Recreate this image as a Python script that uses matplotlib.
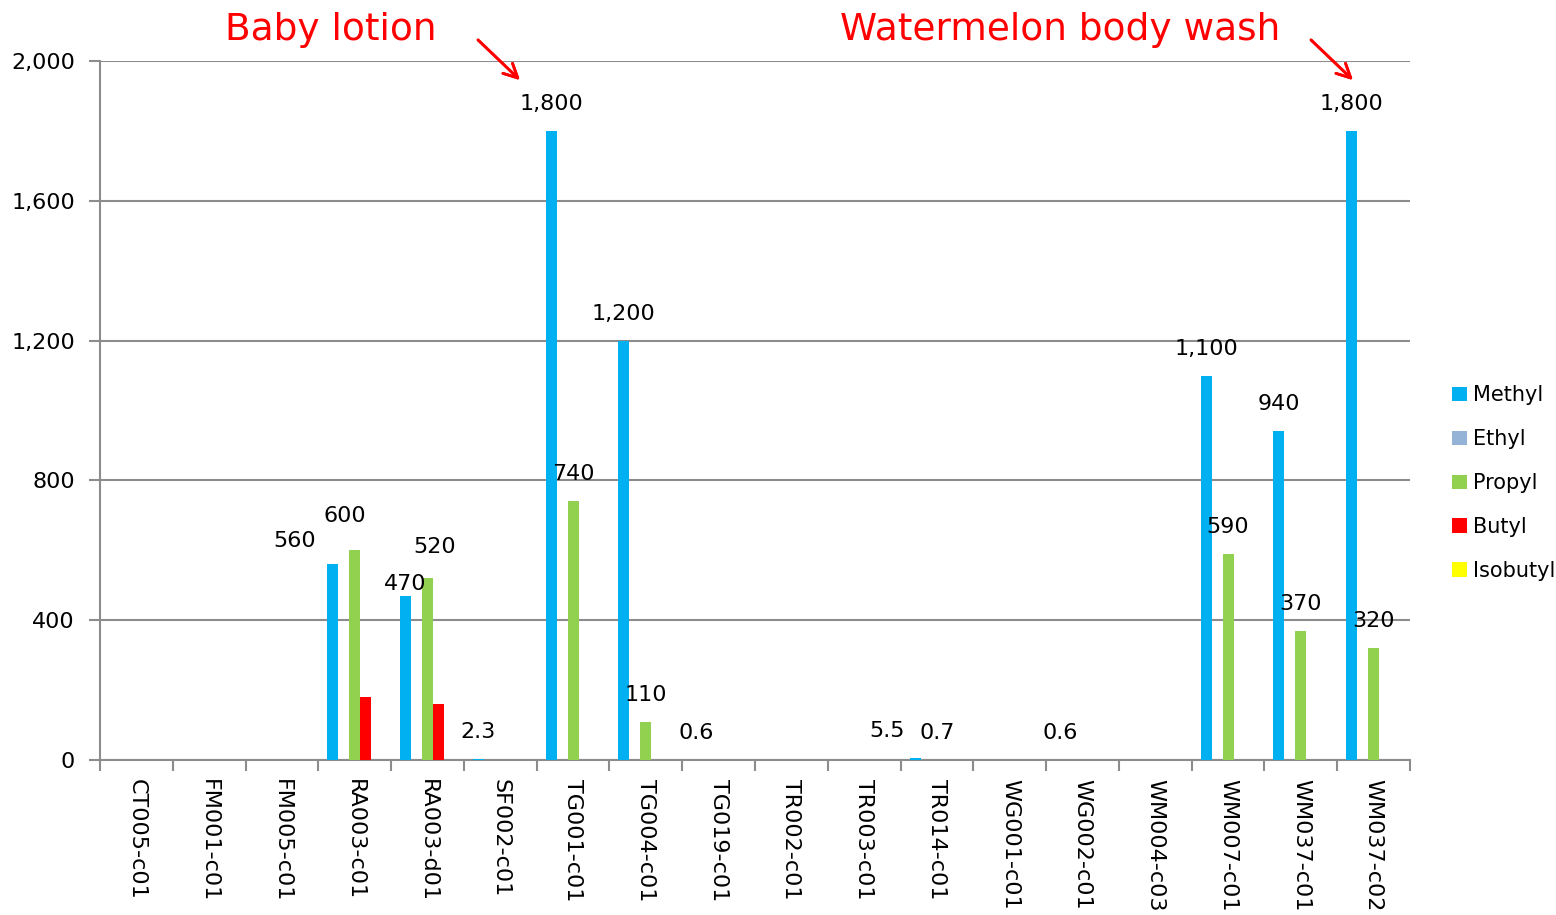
import numpy as np
import matplotlib
matplotlib.use("Agg")
import matplotlib.pyplot as plt
from matplotlib.patches import Patch

# ============================================================
# Datos
# ============================================================

muestras = ["CT005-c01", "FM001-c01", "FM005-c01", "RA003-c01", "RA003-d01",
            "SF002-c01", "TG001-c01", "TG004-c01", "TG019-c01", "TR002-c01",
            "TR003-c01", "TR014-c01", "WG001-c01", "WG002-c01", "WM004-c03",
            "WM007-c01", "WM037-c01", "WM037-c02"]

metil = [0, 0, 0, 560, 470, 2.3, 1800, 1200, 0.6, 0, 0, 5.5, 0, 0.6, 0, 1100, 940, 1800]
etil = [0] * 18
propil = [0, 0, 0, 600, 520, 0, 740, 110, 0, 0, 0, 0.7, 0, 0, 0, 590, 370, 320]
butil = [0, 0, 0, 180, 160, 0, 0, 0, 0, 0, 0, 0, 0, 0, 0, 0, 0, 0]
isobutil = [0] * 18

series = ["Methyl", "Ethyl", "Propyl", "Butyl", "Isobutyl"]
colores = ["#00B0F0", "#95B3D7", "#92D050", "#FF0000", "#FFFF00"]

# etiquetas: (serie, indice muestra, texto)
etiquetas = [
    (0, 3, "560"), (2, 3, "600"), (0, 4, "470"), (2, 4, "520"),
    (0, 5, "2.3"), (0, 6, "1,800"), (2, 6, "740"), (0, 7, "1,200"),
    (2, 7, "110"), (0, 8, "0.6"), (0, 11, "5.5"), (2, 11, "0.7"),
    (0, 13, "0.6"), (0, 15, "1,100"), (2, 15, "590"), (0, 16, "940"),
    (2, 16, "370"), (0, 17, "1,800"), (2, 17, "320"),
]
# desplazamientos manuales (px) de algunas etiquetas
ajustes = {(0, 3): (-38, -4), (2, 3): (-10, 7), (0, 4): (0, -15),
           (2, 4): (7, 4), (0, 11): (-28, 0)}

plt.rcParams["font.family"] = "DejaVu Sans"

fig = plt.figure(figsize=(15.56, 9.15), dpi=100)
ax = fig.add_axes([0.0643, 0.1694, 0.8419, 0.7639])

datos = [metil, etil, propil, butil, isobutil]
x = np.arange(len(muestras))
ancho = 0.151

for k, (vals, nombre, color) in enumerate(zip(datos, series, colores)):
    ax.bar(x + (k - 2) * ancho, vals, width=ancho, color=color, label=nombre, zorder=3)

px = 72 / 100  # pixeles -> puntos
for s, i, texto in etiquetas:
    dx, dy = ajustes.get((s, i), (0, 0))
    ax.annotate(texto, (x[i] + (s - 2) * ancho, datos[s][i]),
                xytext=(dx * px, (27 + dy) * px), textcoords="offset points",
                ha="center", va="center", fontsize=16, zorder=4)

ax.set_xlim(-0.5, len(muestras) - 0.5)
ax.set_ylim(0, 2000)
ax.set_yticks(np.arange(0, 2001, 400))
ax.set_yticklabels([f"{v:,}" for v in range(0, 2001, 400)], fontsize=16)
ax.yaxis.grid(True, color="#8C8C8C", linewidth=1.5, zorder=0)

ax.set_xticks(x)
ax.set_xticklabels(muestras, rotation=270, fontsize=16, va="top", ha="center")
ax.set_xticks(np.arange(-0.5, len(muestras)), minor=True)
ax.tick_params(axis="x", which="major", length=0, pad=14)
ax.tick_params(axis="x", which="minor", length=8, width=1.5, color="#8C8C8C")
ax.tick_params(axis="y", length=8, width=1.5, color="#8C8C8C", pad=10)

for lado in ["top", "right"]:
    ax.spines[lado].set_visible(False)
for lado in ["left", "bottom"]:
    ax.spines[lado].set_color("#8C8C8C")
    ax.spines[lado].set_linewidth(1.5)

manijas = [Patch(facecolor=c, label=n) for c, n in zip(colores, series)]
fig.legend(handles=manijas, loc="center left", bbox_to_anchor=(0.928, 0.472),
           frameon=False, fontsize=15, handlelength=0.7, handleheight=0.7,
           handletextpad=0.3, labelspacing=1.15, borderaxespad=0)

# anotaciones en rojo
W, H = 1556, 915
fig.text(331 / W, 1 - 30 / H, "Baby lotion", color="red", fontsize=27,
         ha="center", va="center")
fig.text(1060 / W, 1 - 30 / H, "Watermelon body wash", color="red", fontsize=27,
         ha="center", va="center")
for x0, x1 in [(476, 522), (1309, 1355)]:
    fig.add_artist(plt.annotate("", xy=(x1 / W, 1 - 82 / H), xytext=(x0 / W, 1 - 38 / H),
                                xycoords="figure fraction", textcoords="figure fraction",
                                arrowprops=dict(arrowstyle="->", color="red", lw=2,
                                                mutation_scale=25)))

plt.savefig("out.png", dpi=100)
